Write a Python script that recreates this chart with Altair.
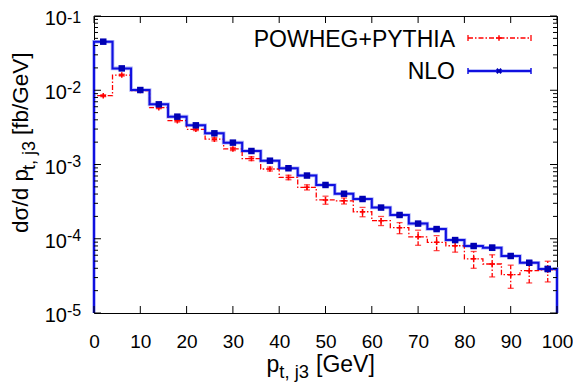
import altair as alt
import pandas as pd

# ---------------- data ----------------
bin_lo = [0, 4, 8, 12, 16, 20, 24, 28, 32, 36, 40, 44, 48, 52, 56, 60, 64, 68, 72, 76, 80, 84, 88, 92, 96]
bin_width = 4
x_max = 100

nlo = [0.0451, 0.0197, 0.01007, 0.00646, 0.00441, 0.00337, 0.00263, 0.00197, 0.00152, 0.001125,
       0.00089, 0.000710, 0.00053, 0.000404, 0.000343, 0.000263, 0.000209, 0.00016, 0.000135, 9.6e-5,
       7.98e-5, 7.58e-5, 5.86e-5, 4.75e-5, 3.92e-5]
nlo_err = [0.00045, 0.0002, 0.0001, 0.000078, 0.000053, 0.00005, 0.00004, 0.000035, 0.00003, 0.0000225,
           0.0000222, 0.0000178, 0.0000159, 0.0000121, 0.000012, 0.0000092, 0.0000084, 0.0000064, 0.0000061, 0.0000048,
           0.000004, 0.0000061, 0.0000035, 0.0000033, 0.0000031]

pow_ = [0.00845, 0.0160, 0.0099, 0.00582, 0.00389, 0.00298, 0.00219, 0.00162, 0.0012, 0.00087,
        0.00067, 0.000493, 0.000333, 0.000324, 0.000231, 0.000175, 0.000141, 0.000106, 8.96e-5, 8.05e-5,
        5.37e-5, 4.57e-5, 3.28e-5, 3.71e-5, 3.8e-5]
pow_err = [0.000254, 0.00048, 0.000297, 0.000175, 0.000156, 0.000119, 0.00011, 0.000081, 0.000072, 0.000052,
           0.000047, 0.0000394, 0.0000413, 0.0000301, 0.0000333, 0.0000245, 0.000024, 0.0000244, 0.0000204, 0.0000145,
           0.0000137, 0.0000151, 0.0000113, 0.0000117, 0.0000118]

x_ticks = [0, 10, 20, 30, 40, 50, 60, 70, 80, 90, 100]
y_major = [1e-5, 1e-4, 1e-3, 1e-2, 1e-1]
y_exp_labels = ["-5", "-4", "-3", "-2", "-1"]
y_minor = [k * 10.0 ** e for e in [-5, -4, -3, -2] for k in range(2, 10)]

legend_labels = ["POWHEG+PYTHIA", "NLO"]

# ---------------- styles ----------------
W, H = 463, 297
FONT = "Liberation Sans"
RED = "#ff0000"
BLUE = "#1010e0"
BLUE_M = "#0000b4"
HALO = "#aab0f8"
DASH = [5, 2, 1.5, 2]
y_min, y_max = 1e-5, 1e-1

xscale = alt.Scale(domain=[0, x_max], nice=False, zero=False)
yscale = alt.Scale(type="log", domain=[y_min, y_max], nice=False)
xaxis = alt.Axis(values=x_ticks, labelFontSize=19, labelFont=FONT, labelColor="black",
                 ticks=False, tickSize=0, domain=False, grid=False, labelPadding=34,
                 labelBaseline="alphabetic", title=None, labelFlush=False)


def step_frame(vals):
    rows = [{"x": 0, "y": y_min, "o": 0}]
    for i, (lo, v) in enumerate(zip(bin_lo, vals)):
        rows.append({"x": lo, "y": v, "o": i + 1})
    rows.append({"x": x_max, "y": vals[-1], "o": len(vals) + 1})
    rows.append({"x": x_max, "y": y_min, "o": len(vals) + 2})
    return pd.DataFrame(rows)


def point_frame(vals, errs):
    return pd.DataFrame({
        "xc": [lo + bin_width / 2 for lo in bin_lo],
        "v": vals,
        "lo": [v - e for v, e in zip(vals, errs)],
        "hi": [v + e for v, e in zip(vals, errs)],
    })


X = lambda f: alt.X(f, scale=xscale, axis=xaxis)
Y = lambda f: alt.Y(f, scale=yscale, axis=None)

red_step = step_frame(pow_)
blue_step = step_frame(nlo)
red_pts = point_frame(pow_, pow_err)
blue_pts = point_frame(nlo, nlo_err)

layers = []

# blue halo
layers.append(alt.Chart(blue_step).mark_line(interpolate="step-after", color=HALO, strokeWidth=3.6)
              .encode(x=X("x:Q"), y=Y("y:Q"), order="o:Q"))
# red step
layers.append(alt.Chart(red_step).mark_line(interpolate="step-after", color=RED, strokeWidth=1.3,
                                            strokeDash=DASH)
              .encode(x=X("x:Q"), y=Y("y:Q"), order="o:Q"))
# red error bars
layers.append(alt.Chart(red_pts).mark_rule(color=RED, strokeWidth=1.3, strokeDash=[4, 2, 1.5, 2])
              .encode(x=X("xc:Q"), y=Y("lo:Q"), y2="hi:Q"))
for f in ["lo:Q", "hi:Q"]:
    layers.append(alt.Chart(red_pts).mark_tick(color=RED, orient="horizontal", size=6, thickness=1.3)
                  .encode(x=X("xc:Q"), y=Y(f)))
layers.append(alt.Chart(red_pts).mark_point(shape="M-1,0L1,0M0,-1L0,1", filled=False, color=RED,
                                            strokeWidth=1.5, size=30, opacity=1)
              .encode(x=X("xc:Q"), y=Y("v:Q")))
# blue line
layers.append(alt.Chart(blue_step).mark_line(interpolate="step-after", color=BLUE, strokeWidth=2)
              .encode(x=X("x:Q"), y=Y("y:Q"), order="o:Q"))
layers.append(alt.Chart(blue_pts).mark_rule(color=BLUE_M, strokeWidth=1.3)
              .encode(x=X("xc:Q"), y=Y("lo:Q"), y2="hi:Q"))
for f in ["lo:Q", "hi:Q"]:
    layers.append(alt.Chart(blue_pts).mark_tick(color=BLUE_M, orient="horizontal", size=6, thickness=1.3)
                  .encode(x=X("xc:Q"), y=Y(f)))
layers.append(alt.Chart(blue_pts).mark_square(color=BLUE_M, size=42, opacity=1, filled=True)
              .encode(x=X("xc:Q"), y=Y("v:Q")))

# ---------------- inward ticks ----------------
ymaj = pd.DataFrame({"v": y_major})
ymin_df = pd.DataFrame({"v": y_minor})
xt = pd.DataFrame({"t": x_ticks})
tick_style = dict(color="black", strokeWidth=1)
layers.append(alt.Chart(ymaj).mark_rule(**tick_style).encode(y=Y("v:Q"), x=alt.value(0), x2=alt.value(7)))
layers.append(alt.Chart(ymaj).mark_rule(**tick_style).encode(y=Y("v:Q"), x=alt.value(W), x2=alt.value(W - 7)))
layers.append(alt.Chart(ymin_df).mark_rule(**tick_style).encode(y=Y("v:Q"), x=alt.value(0), x2=alt.value(4)))
layers.append(alt.Chart(ymin_df).mark_rule(**tick_style).encode(y=Y("v:Q"), x=alt.value(W), x2=alt.value(W - 4)))
layers.append(alt.Chart(xt).mark_rule(**tick_style).encode(x=X("t:Q"), y=alt.value(H), y2=alt.value(H - 7)))
layers.append(alt.Chart(xt).mark_rule(**tick_style).encode(x=X("t:Q"), y=alt.value(0), y2=alt.value(7)))

# ---------------- y tick labels: 10^n ----------------
ylab = pd.DataFrame({"v": y_major, "e": y_exp_labels})
ylab_top = ylab[ylab["v"] == y_max]
ylab_rest = ylab[ylab["v"] != y_max]
layers.append(alt.Chart(ylab).mark_text(font=FONT, fontSize=20, align="right", baseline="alphabetic",
                                        dy=9, color="black")
              .encode(y=Y("v:Q"), x=alt.value(-27), text=alt.value("10")))
layers.append(alt.Chart(ylab_rest).mark_text(font=FONT, fontSize=16, align="left", baseline="alphabetic",
                                             dy=2.5, color="black")
              .encode(y=Y("v:Q"), x=alt.value(-27), text="e:N"))
layers.append(alt.Chart(ylab_top).mark_text(font=FONT, fontSize=16, align="left", baseline="alphabetic",
                                            dy=6.5, color="black")
              .encode(y=Y("v:Q"), x=alt.value(-27), text="e:N"))

# ---------------- axis titles ----------------
one = pd.DataFrame({"a": [0]})


def txt(s, x, y, size, angle=0):
    kw = dict(font=FONT, fontSize=size, align="left", baseline="alphabetic", color="black")
    if angle:
        kw["angle"] = angle
    return alt.Chart(one).mark_text(**kw).encode(x=alt.value(x), y=alt.value(y), text=alt.value(s))


# x title
layers.append(txt("p", 172.5, 356, 23))
layers.append(txt("t, j3", 185.3, 362, 18.4))
layers.append(txt("[GeV]", 222, 356, 23))
# y title (rotated)
layers.append(txt("d\u03c3/d p", -66, 217, 22.5, 270))
layers.append(txt("t, j3", -59, 154, 18, 270))
layers.append(txt("[fb/GeV]", -66, 119, 22.5, 270))

# ---------------- legend ----------------
lx0, lx1, lxm = 374, 437, 405
ly = [22, 55]
for lab, yy in zip(legend_labels, [31, 63]):
    layers.append(alt.Chart(one).mark_text(font=FONT, fontSize=23, align="right", baseline="alphabetic",
                                           color="black")
                  .encode(x=alt.value(361), y=alt.value(yy), text=alt.value(lab)))
# red sample
layers.append(alt.Chart(one).mark_rule(color=RED, strokeWidth=1.3, strokeDash=DASH)
              .encode(x=alt.value(lx0), x2=alt.value(lx1), y=alt.value(ly[0])))
for xx in [lx0, lx1]:
    layers.append(alt.Chart(one).mark_rule(color=RED, strokeWidth=1.3)
                  .encode(x=alt.value(xx), y=alt.value(ly[0] - 3), y2=alt.value(ly[0] + 3)))
layers.append(alt.Chart(one).mark_point(shape="M-1,0L1,0M0,-1L0,1", filled=False, color=RED,
                                        strokeWidth=1.5, size=30, opacity=1)
              .encode(x=alt.value(lxm), y=alt.value(ly[0])))
# blue sample
layers.append(alt.Chart(one).mark_rule(color=HALO, strokeWidth=3.6)
              .encode(x=alt.value(lx0), x2=alt.value(lx1), y=alt.value(ly[1])))
layers.append(alt.Chart(one).mark_rule(color=BLUE, strokeWidth=2)
              .encode(x=alt.value(lx0), x2=alt.value(lx1), y=alt.value(ly[1])))
for xx in [lx0, lx1]:
    layers.append(alt.Chart(one).mark_rule(color=BLUE, strokeWidth=1.5)
                  .encode(x=alt.value(xx), y=alt.value(ly[1] - 3), y2=alt.value(ly[1] + 3)))
layers.append(alt.Chart(one).mark_point(shape="M-1,-1L1,1M-1,1L1,-1", filled=False, color=BLUE_M,
                                        strokeWidth=2, size=20, opacity=1)
              .encode(x=alt.value(lxm), y=alt.value(ly[1])))

chart = alt.layer(*layers).properties(
    width=W, height=H,
    autosize=alt.AutoSizeParams(type="none"),
    padding={"left": 86, "top": 8, "right": 16, "bottom": 70},
    background="white",
).configure_view(stroke="black", strokeWidth=1)

chart.save("out.html", embed_options={"renderer": "svg", "actions": False})
